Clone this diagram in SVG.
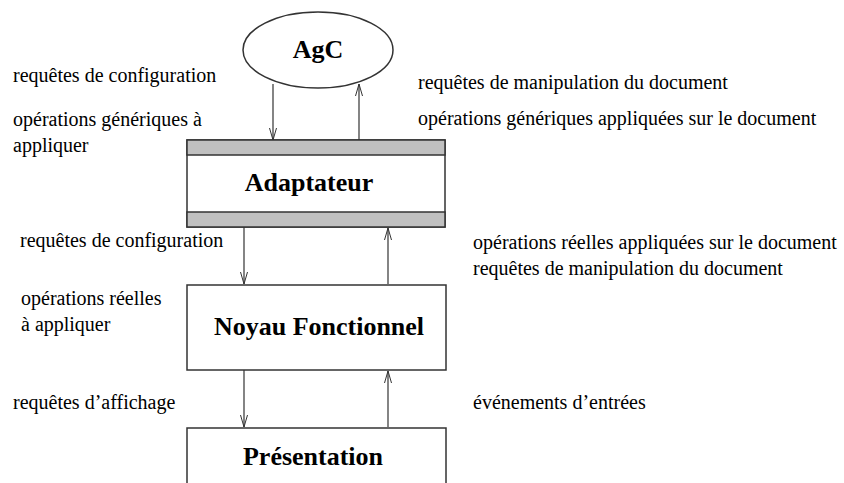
<svg xmlns="http://www.w3.org/2000/svg" width="844" height="483" viewBox="0 0 844 483">
<defs>
<marker id="arr" viewBox="0 0 12 8" refX="12" refY="4" markerWidth="12" markerHeight="8" markerUnits="userSpaceOnUse" orient="auto">
<path d="M0,0.5 L12,4 L0,7.5" fill="none" stroke="#333" stroke-width="1"/>
</marker>
<style>
.box{fill:#fff;stroke:#333;stroke-width:1.5}
.band{fill:#c0c0c0;stroke:#333;stroke-width:1.5}
.t{font-size:20px;fill:#000}
.b{font-size:26px;font-weight:bold;fill:#000;text-anchor:middle}
.c{stroke:#333;stroke-width:1.2;fill:none;marker-end:url(#arr)}
</style>
</defs>
<rect width="844" height="483" fill="#fff"/>
<g font-family="Liberation Serif, DejaVu Serif, Times New Roman, serif">
<g id="agc">
<ellipse cx="318" cy="50" rx="75" ry="38" class="box"/>
<text x="318" y="58" class="b">AgC</text>
</g>
<g id="adaptateur">
<rect x="187" y="140" width="258" height="87" class="box"/>
<rect x="187" y="140" width="258" height="15" class="band"/>
<rect x="187" y="212" width="258" height="15" class="band"/>
<text x="309" y="191" class="b">Adaptateur</text>
</g>
<g id="noyau">
<rect x="187" y="285" width="259" height="85" class="box"/>
<text x="319" y="335" class="b">Noyau Fonctionnel</text>
</g>
<g id="presentation">
<rect x="187" y="428" width="259" height="70" class="box"/>
<text x="313" y="465" class="b">Présentation</text>
</g>
<g id="connectors">
<line x1="273" y1="84" x2="273" y2="140" class="c"/>
<line x1="359" y1="140" x2="359" y2="84" class="c"/>
<line x1="244" y1="227" x2="244" y2="284" class="c"/>
<line x1="388" y1="284" x2="388" y2="228" class="c"/>
<line x1="244" y1="370" x2="244" y2="427" class="c"/>
<line x1="388" y1="427" x2="388" y2="371" class="c"/>
</g>
<g id="labels">
<text x="13" y="82" class="t">requêtes de configuration</text>
<text x="13" y="126" class="t">opérations génériques à</text>
<text x="13" y="152" class="t">appliquer</text>
<text x="418" y="89" class="t">requêtes de manipulation du document</text>
<text x="418" y="125" class="t">opérations génériques appliquées sur le document</text>
<text x="20" y="247" class="t">requêtes de configuration</text>
<text x="21" y="305" class="t">opérations réelles</text>
<text x="21" y="331" class="t">à appliquer</text>
<text x="13" y="409" class="t">requêtes d’affichage</text>
<text x="473" y="249" class="t">opérations réelles appliquées sur le document</text>
<text x="473" y="275" class="t">requêtes de manipulation du document</text>
<text x="473" y="409" class="t">événements d’entrées</text>
</g>
</g>
</svg>
